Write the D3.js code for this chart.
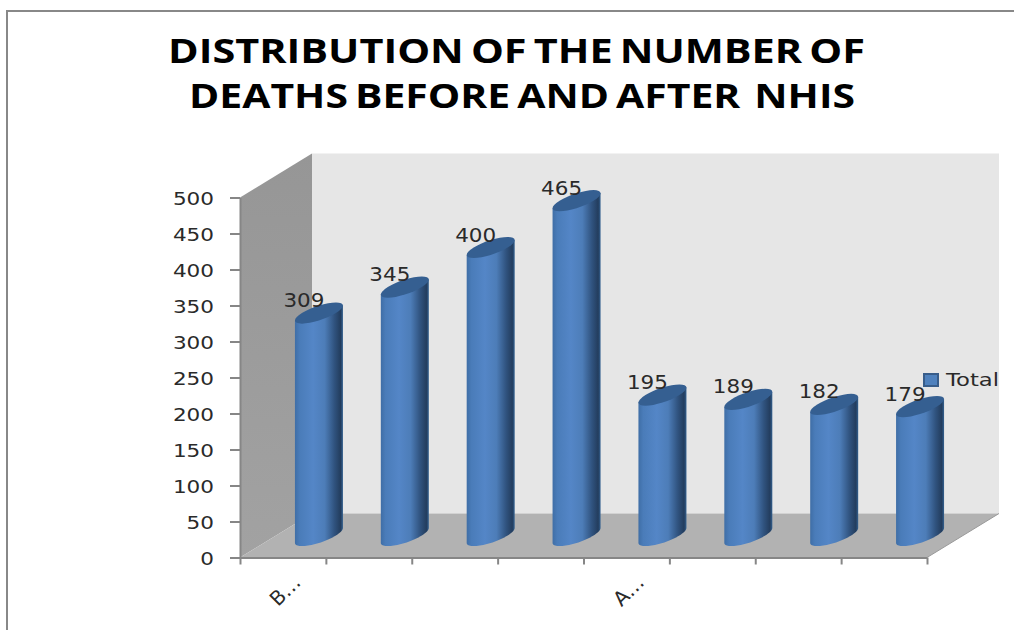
<!DOCTYPE html>
<html>
<head>
<meta charset="utf-8">
<script src="https://cdnjs.cloudflare.com/ajax/libs/d3/7.8.5/d3.min.js"></script>
<style>
  html, body { margin: 0; padding: 0; background: #fff; }
  svg { display: block; }
  text { font-family: "DejaVu Sans", sans-serif; fill: #2a2a2a; }
  .title { font-family: "Open Sans", sans-serif; font-weight: 700; font-size: 34px; fill: #000; word-spacing: -3px; white-space: pre; }
</style>
</head>
<body>
<svg id="chart" width="1014" height="630"></svg>
<script>
const titleLines = ["DISTRIBUTION OF THE NUMBER OF", "DEATHS BEFORE AND AFTER  NHIS"];
const categories = ["B…", "", "", "", "A…", "", "", ""];
const deaths = [309, 345, 400, 465, 195, 189, 182, 179];
const yTicks = [0, 50, 100, 150, 200, 250, 300, 350, 400, 450, 500];
const seriesName = "Total";

const width = 1014, height = 630;
const depthX = 72, depthY = 44;   // how far the back wall sits from the front axes
const radius = 24, shear = 7.5, minor = 7.5;
const digitWidth = 13.7;          // labels are drawn a little wider than the font's own digits

const svg = d3.select("#chart");

const x = d3.scaleLinear().domain([0, categories.length]).range([240, 927]);
const y = d3.scaleLinear().domain([0, 500]).range([557.5, 197.5]);

// outer frame, only top and left are inside the crop
svg.append("path")
  .attr("d", `M7,${height}V11H${width}`)
  .attr("fill", "none")
  .attr("stroke", "#888")
  .attr("stroke-width", 2);

svg.selectAll(".title")
  .data(titleLines)
  .join("text")
  .attr("class", "title")
  .attr("x", (d, i) => [168, 189][i])
  .attr("y", (d, i) => [63, 108][i])
  .attr("textLength", (d, i) => [697, 666][i])
  .attr("lengthAdjust", "spacingAndGlyphs")
  .text(d => d);

const defs = svg.append("defs");

const barGrad = defs.append("linearGradient").attr("id", "barGrad");
[[0, "#3f6ea6"], [0.1, "#4a7cb9"], [0.38, "#5486c7"], [0.62, "#4d7db8"],
 [0.82, "#30537f"], [0.95, "#233d5e"], [1, "#33608f"]].forEach(s => {
  barGrad.append("stop").attr("offset", s[0]).attr("stop-color", s[1]);
});

const wallGrad = defs.append("linearGradient").attr("id", "wallGrad")
  .attr("x1", 0).attr("x2", 0).attr("y1", 0).attr("y2", 1);
wallGrad.append("stop").attr("offset", 0).attr("stop-color", "#969696");
wallGrad.append("stop").attr("offset", 1).attr("stop-color", "#a2a2a2");

// walls and floor
const x0 = x.range()[0], x1 = x.range()[1];
const yBase = y(0), yTop = y(500);
const poly = pts => pts.map(p => p.join(",")).join(" ");

svg.append("polygon")
  .attr("points", poly([[x0 + depthX, yTop - depthY], [x1 + depthX, yTop - depthY],
                        [x1 + depthX, yBase - depthY], [x0 + depthX, yBase - depthY]]))
  .attr("fill", "#e6e6e6");

svg.append("polygon")
  .attr("points", poly([[x0, yTop], [x0 + depthX, yTop - depthY],
                        [x0 + depthX, yBase - depthY], [x0, yBase]]))
  .attr("fill", "url(#wallGrad)");

svg.append("polygon")
  .attr("points", poly([[x0, yBase], [x0 + depthX, yBase - depthY],
                        [x1 + depthX, yBase - depthY], [x1, yBase]]))
  .attr("fill", "#b2b2b2");

// axes
const yAxis = svg.append("g")
  .attr("transform", `translate(${x0},0)`)
  .call(d3.axisLeft(y).tickValues(yTicks).tickSize(10).tickPadding(16).tickSizeOuter(0));

const xAxis = svg.append("g")
  .attr("transform", `translate(0,${yBase})`)
  .call(d3.axisBottom(x).ticks(categories.length).tickSize(7).tickFormat("").tickSizeOuter(0));

[yAxis, xAxis].forEach(g => {
  g.selectAll("path, line").attr("stroke", "#868686").attr("stroke-width", 2);
});
yAxis.selectAll("text")
  .style("font-family", "'DejaVu Sans', sans-serif")
  .style("font-size", "18.5px")
  .style("fill", "#2a2a2a")
  .attr("dy", "0.4em")
  .attr("textLength", d => String(d).length * digitWidth)
  .attr("lengthAdjust", "spacingAndGlyphs");

// floor edge running to the back wall on the right
svg.append("line")
  .attr("x1", x1).attr("y1", yBase)
  .attr("x2", x1 + depthX).attr("y2", yBase - depthY)
  .attr("stroke", "#9a9a9a").attr("stroke-width", 1);

// cylinders
const bars = svg.selectAll(".bar")
  .data(deaths)
  .join("g")
  .attr("class", "bar")
  .attr("transform", (d, i) => `translate(${x(i + 0.5) + depthX / 2},0)`);

// side surface: straight edges closed by the lower half of the sheared base ellipse
function sidePath(v) {
  const top = y(v) - depthY / 2, base = yBase - depthY / 2;
  const path = d3.path();
  path.moveTo(-radius, top + shear);
  path.lineTo(-radius, base + shear);
  d3.range(1, 41).forEach(k => {
    const t = Math.PI - (k / 40) * Math.PI;
    path.lineTo(radius * Math.cos(t), base + minor * Math.sin(t) - shear * Math.cos(t));
  });
  path.lineTo(radius, top - shear);
  path.closePath();
  return path.toString();
}

bars.append("path")
  .attr("d", sidePath)
  .attr("fill", "url(#barGrad)");

bars.append("ellipse")
  .attr("rx", radius)
  .attr("ry", minor)
  .attr("transform", d => `matrix(1,${-shear / radius},0,1,0,${y(d) - depthY / 2})`)
  .attr("fill", "#355f91");

// value labels sit up and to the left of each cap
svg.selectAll(".value")
  .data(deaths)
  .join("text")
  .attr("class", "value")
  .attr("x", (d, i) => x(i + 0.5) + depthX / 2 - 15)
  .attr("y", d => y(d) - depthY / 2 - 6)
  .attr("text-anchor", "middle")
  .attr("font-size", 19.5)
  .attr("textLength", 41)
  .attr("lengthAdjust", "spacingAndGlyphs")
  .text(d => d);

// category labels, most are empty
svg.selectAll(".cat")
  .data(categories)
  .join("text")
  .attr("class", "cat")
  .attr("font-size", 20)
  .attr("text-anchor", "end")
  .attr("transform", (d, i) => `translate(${x(i + 0.5) + 19},${yBase + 26}) rotate(-45)`)
  .text(d => d);

// legend
const legend = svg.append("g").attr("transform", "translate(923,373)");
legend.append("rect")
  .attr("x", 1).attr("y", 1).attr("width", 14).attr("height", 12)
  .attr("fill", "#4f81bd").attr("stroke", "#385d8a").attr("stroke-width", 2);
legend.append("text")
  .attr("x", 23).attr("y", 13)
  .attr("font-size", 18)
  .attr("textLength", 53)
  .attr("lengthAdjust", "spacingAndGlyphs")
  .text(seriesName);
</script>
</body>
</html>
